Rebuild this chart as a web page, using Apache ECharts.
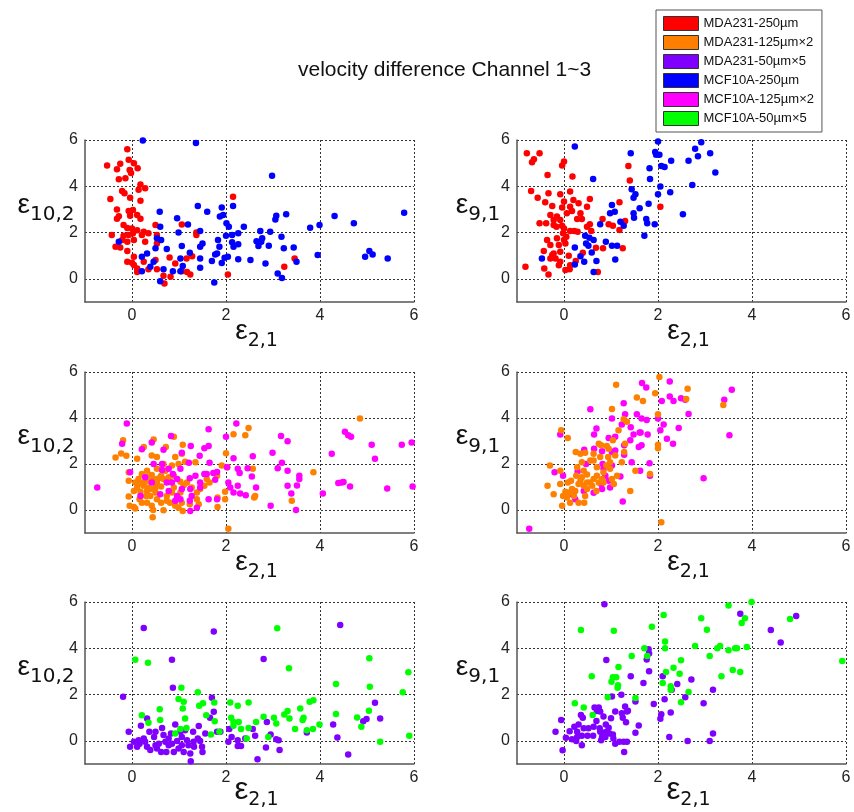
<!DOCTYPE html>
<html>
<head>
<meta charset="utf-8">
<script src="https://cdn.jsdelivr.net/npm/echarts@6/dist/echarts.min.js"></script>
<style>
  body { margin: 0; background: #fff; }
  #main { width: 854px; height: 812px; }
</style>
</head>
<body>
<div id="main"></div>
<script>
// series names (legend order)
var names = ['MDA231-250µm', 'MDA231-125µm×2', 'MDA231-50µm×5', 'MCF10A-250µm', 'MCF10A-125µm×2', 'MCF10A-50µm×5'];
var colors = ['#ff0000', '#ff8000', '#8000ff', '#0000ff', '#ff00ff', '#00ff00'];
var xTicks = [0, 2, 4, 6];
var yTicks = [0, 2, 4, 6];

// panel 1: e2,1 vs e10,2, 250um
var p1Red = [[-0.53,4.9],[-0.1,5.6],[-0.07,5.15],[0.04,5.0],[0.12,4.78],[-0.32,4.74],[-0.25,4.97],[-0.05,4.7],[-0.02,4.57],[-0.14,4.35],[-0.28,4.3],[0.18,4.08],[0.28,3.92],[0.14,3.85],[-0.46,3.45],[-0.21,3.8],[-0.16,3.7],[-0.04,3.5],[0.18,3.37],[-0.32,3.0],[-0.07,2.93],[0.02,2.98],[-0.28,2.7],[-0.32,2.6],[-0.04,2.73],[0.11,2.76],[0.18,2.6],[-0.18,2.33],[0,2.18],[-0.1,2.2],[0.11,2.1],[0.25,2.04],[0.35,1.97],[0.21,1.9],[0.5,2.33],[0.53,1.9],[-0.43,1.9],[-0.18,1.86],[-0.07,1.9],[0.02,1.97],[-0.21,1.68],[-0.1,1.6],[0.04,1.68],[0.28,1.6],[0.53,1.53],[-0.35,1.39],[-0.25,1.35],[-0.1,1.2],[0.04,0.95],[-0.1,0.74],[0,0.7],[0.04,0.6],[0.25,0.74],[0.11,0.45],[0.11,0.3],[0.35,0.42],[0.5,0.81],[0.53,0.42],[0.67,0.13],[0.69,-0.2],[0.82,0.09],[0.92,0.66],[0.8,0.92],[1.06,2.35],[1.06,0.33],[1.16,0.88],[1.17,0.3],[1.24,0.19],[1.28,0.98],[1.37,2.0],[1.37,1.9],[2.15,3.55],[2.04,0.19],[3.24,0.52],[3.46,0.88]];
var p1Blue = [[0.23,5.98],[1.36,5.87],[2.98,4.45],[5.79,2.86],[1.4,3.15],[1.6,2.9],[1.91,3.08],[2.15,3.15],[0.59,2.9],[0.96,2.62],[1.87,2.69],[1.94,2.76],[2.01,2.4],[2.06,2.25],[2.38,2.25],[0.6,2.25],[1.19,2.35],[1.45,2.07],[0.99,2.0],[2.26,1.97],[2.13,1.9],[2.0,1.86],[2.73,2.07],[2.94,2.04],[3.05,2.57],[3.07,2.73],[3.28,2.79],[3.79,2.21],[3.99,2.33],[4.31,2.72],[4.72,2.4],[0.53,1.75],[0.62,1.68],[-0.28,1.6],[1.5,1.53],[1.45,1.39],[1.83,1.68],[1.86,1.39],[2.13,1.58],[2.16,1.39],[2.26,1.49],[2.65,1.63],[2.77,1.75],[2.75,1.6],[2.69,1.42],[2.91,1.43],[3.18,1.82],[3.23,1.32],[3.44,1.36],[1.06,1.42],[0.74,1.29],[0.5,1.32],[0.32,1.1],[1.23,1.13],[0.21,0.95],[1.77,1.05],[1.81,1.1],[1.7,0.77],[1.45,0.88],[1.03,0.88],[1.97,0.91],[2.04,0.95],[2.26,0.85],[2.52,0.81],[2.84,0.66],[1.91,0.69],[3.5,0.74],[3.95,1.03],[4.96,0.95],[5.05,1.2],[5.12,1.05],[5.44,0.88],[0.46,0.74],[0.39,0.52],[1.08,0.56],[0.67,0.42],[0.87,0.33],[1.03,0.33],[1.45,0.48],[0.21,0.33],[0.6,-0.1],[1.75,-0.16],[3.1,0.23],[3.19,0.04]];

// panel 2: e2,1 vs e9,1, 250um
var p2Red = [[-0.79,5.43],[-0.52,5.43],[-0.64,5.17],[-0.68,5.04],[0,5.07],[-0.04,4.9],[0.18,4.42],[-0.35,4.49],[1.37,4.88],[1.4,4.25],[-0.7,3.8],[-0.56,3.51],[-0.33,3.7],[-0.4,3.31],[-0.08,3.66],[0.13,3.77],[0,3.34],[0.2,3.41],[0.31,3.27],[0.55,3.45],[0.49,3.12],[-0.25,3.15],[-0.04,3.08],[0.13,3.12],[0.17,2.93],[0.06,2.83],[0.35,2.83],[-0.29,2.76],[-0.15,2.69],[-0.22,2.54],[-0.08,2.54],[0.28,2.59],[0.38,2.59],[-0.52,2.4],[-0.38,2.4],[-0.22,2.33],[-0.16,2.25],[-0.04,2.3],[0,2.18],[0.13,2.07],[0.22,2.07],[0.29,2.04],[0.55,2.36],[0.58,2.07],[0.49,2.25],[-0.02,1.97],[0.05,1.82],[-0.15,1.75],[0,1.68],[-0.36,1.68],[0.03,1.53],[-0.11,1.46],[-0.29,1.46],[-0.43,1.2],[-0.22,1.1],[-0.08,1.17],[-0.25,1.03],[0.1,1.0],[-0.18,0.88],[-0.29,0.88],[-0.08,0.74],[-0.11,0.59],[0.13,0.59],[0.03,0.38],[0.12,0.42],[-0.42,0.45],[-0.33,0.19],[-0.82,0.52],[0.25,0.77],[0.4,1.13],[0.68,1.34],[0.83,1.32],[0.82,2.59],[0.95,2.36],[1.04,2.3],[1.18,3.31],[1.18,2.11],[1.3,2.5],[1.25,1.32],[0.72,0.3],[2.05,3.12]];
var p2Blue = [[0.23,5.72],[1.42,5.43],[2.0,5.94],[1.94,5.48],[2.03,5.36],[1.96,5.36],[2.92,5.9],[2.79,5.62],[3.11,5.43],[2.85,5.3],[2.65,5.1],[2.28,5.1],[2.07,4.88],[2.14,4.83],[1.82,4.78],[3.22,4.6],[0.62,4.31],[1.83,4.31],[2.05,3.99],[2.73,4.06],[1.44,3.87],[1.52,3.66],[1.48,3.51],[2.26,3.74],[2.0,3.66],[1.61,3.05],[1.8,3.24],[1.02,3.19],[0.98,2.83],[1.08,2.9],[1.48,2.83],[1.49,2.64],[1.75,2.59],[1.77,2.4],[1.93,2.36],[2.53,2.79],[1.2,2.47],[1.27,2.3],[0.77,2.36],[1.71,1.86],[0.45,1.86],[0.54,1.78],[0.63,1.68],[0.89,1.6],[0.47,1.53],[0.52,1.43],[1.02,1.43],[1.13,1.43],[0.23,1.36],[0.59,1.14],[0.35,0.98],[-0.47,0.88],[1.09,0.84],[0.43,0.74],[0.69,0.77],[0.23,0.62],[0.63,0.3]];

// panel 3: e2,1 vs e10,2, 125um x2
var p3Orange = [[-0.19,3.03],[-0.23,2.46],[-0.35,2.28],[-0.12,2.36],[0.25,2.74],[0.46,3.07],[0.11,2.23],[0.53,2.3],[0.42,2.37],[0.72,2.74],[0.89,3.18],[1.08,2.84],[1.06,2.45],[0.99,2.0],[0.92,2.3],[1.13,2.1],[1.35,2.08],[0.85,1.93],[0.67,2.0],[0.53,1.79],[0.42,1.52],[0.32,1.71],[0.21,1.57],[0.14,1.35],[0.07,1.2],[0.11,0.98],[0.18,0.79],[0.25,1.05],[0.35,1.27],[0.32,0.83],[0.42,0.91],[0.53,1.2],[0.62,1.49],[0.71,1.71],[0.78,1.42],[0.62,1.02],[0.5,0.76],[0.39,0.61],[0.32,0.32],[0.42,0.18],[0.45,0],[0.44,-0.32],[0.67,-0.01],[0.74,0.61],[0.74,0.4],[0.85,0.76],[0.96,0.54],[1.03,0.76],[1.1,1.08],[1.17,1.2],[1.27,0.98],[1.06,0.32],[1.08,-0.04],[1.23,0.25],[1.38,0.47],[1.42,0.25],[1.59,1.35],[1.65,1.2],[1.54,1.05],[1.81,1.49],[1.91,1.93],[1.82,0.54],[1.82,0.13],[1.98,0.79],[1.98,0.47],[2.0,2.47],[2.03,1.86],[2.16,3.29],[2.41,3.25],[2.48,3.57],[2.57,1.79],[2.6,0.54],[2.62,0.61],[2.05,-0.82],[3.4,0.4],[3.86,1.64],[4.85,3.98],[-0.07,1.64],[-0.07,1.27],[-0.07,0.59],[-0.05,0.18],[0.04,0.13],[0.07,0.06],[0.16,0.47],[0.21,0.32],[0.3,0.61],[0.53,0.47],[0.62,0.32],[0.81,0.32],[0.92,0.18],[0.99,0.1],[0.89,0.98],[1.38,0.76],[1.45,0.91],[0.25,1.2],[0.35,0.98],[0.46,1.35],[0.57,1.38],[0.67,1.35],[0.81,1.23],[0.89,1.49],[1.03,1.23],[0.32,1.42],[0.14,1.13],[0.04,0.83],[0.5,0.98]];
var p3Magenta = [[-0.74,0.98],[-0.11,3.76],[-0.21,2.88],[-0.04,1.64],[0.21,2.64],[0.42,2.93],[0.67,2.62],[0.83,3.22],[0.46,2.0],[0.64,2.0],[1.06,2.49],[1.25,2.78],[1.54,2.69],[1.63,3.51],[1.63,2.78],[1.44,2.36],[1.65,2.05],[1.73,1.61],[1.81,1.65],[1.59,1.57],[1.21,2.05],[1.03,1.79],[0.78,1.79],[0.87,1.57],[0.96,1.35],[0.74,1.2],[0.64,1.74],[0.42,1.2],[0.18,0.61],[0.28,1.42],[1.23,1.38],[1.35,1.49],[1.45,1.2],[1.45,0.98],[1.54,1.57],[1.24,0.91],[1.27,0.61],[1.23,0.4],[1.24,-0.04],[1.38,0.1],[0.92,0.4],[1.03,0.47],[0.96,0.61],[1.06,0.91],[0.78,0.83],[0.6,0.69],[0.85,1.2],[1.63,0.47],[1.77,1.32],[1.81,0.47],[2.0,3.18],[2.02,1.86],[2.05,1.2],[2.09,0.98],[2.16,0.76],[2.16,2.25],[2.22,3.76],[2.25,1.79],[2.29,1.61],[2.25,1.05],[2.3,0.72],[2.42,0.64],[2.46,1.82],[2.55,1.46],[2.57,2.34],[2.64,0.98],[2.95,0.18],[2.99,2.49],[3.17,3.22],[3.19,2.05],[3.1,1.82],[3.31,2.99],[3.31,1.71],[3.31,1.05],[3.39,0.72],[3.51,1.07],[3.49,0],[3.56,1.49],[3.56,1.35],[4.06,0.72],[4.25,2.45],[4.53,3.4],[4.6,3.25],[4.66,3.18],[4.39,1.17],[4.46,1.2],[4.5,1.22],[4.64,1.02],[5.1,2.84],[5.17,2.23],[5.43,0.94],[5.74,2.84],[5.95,2.93],[5.97,1.02]];

// panel 4: e2,1 vs e9,1, 125um x2
var p4Orange = [[-0.3,1.93],[-0.35,1.05],[-0.22,0.69],[-0.06,3.47],[0.08,3.13],[-0.08,1.71],[-0.08,1.13],[-0.04,0.18],[-0.02,0.61],[0.06,0.54],[0.15,1.27],[0.25,2.52],[0.35,2.45],[0.45,2.49],[0.28,1.86],[0.38,2.08],[0.42,1.71],[0.56,2.15],[0.63,2.45],[0.74,2.88],[0.79,2.81],[0.91,2.78],[0.95,2.66],[1.04,3.03],[1.02,4.39],[1.11,5.45],[1.16,3.47],[1.27,3.95],[1.34,3.84],[1.3,2.88],[1.28,2.52],[1.23,2.08],[1.13,1.49],[1.06,1.13],[1.02,1.35],[1.55,4.89],[1.68,4.74],[1.52,1.71],[1.83,1.57],[1.94,5.08],[2.03,5.78],[2.0,4.16],[2.0,2.84],[2.0,2.69],[2.07,-0.53],[2.6,4.83],[2.63,5.27],[3.39,4.57],[0.13,0.32],[0.24,0.83],[0.31,1.13],[0.38,1.42],[0.31,0.32],[0.43,0.32],[0.45,0.61],[0.49,0.91],[0.55,1.2],[0.63,1.35],[0.7,1.49],[0.74,1.2],[0.81,1.35],[0.84,1.64],[0.9,1.93],[0.98,1.79],[0.98,2.08],[1.09,2.37],[0.21,0.61],[0.35,1.27],[0.42,1.05],[0.6,1.05],[0.69,0.83],[0.84,1.2],[0.17,0.91],[0.26,1.49],[0.49,1.54],[0.7,1.86],[0.63,2.15],[0.77,2.3],[0.94,2.3],[1.41,0.83],[0.08,1.2],[0.03,0.79],[0.12,0.76],[0.49,1.2]];
var p4Magenta = [[-0.74,-0.82],[-0.08,3.28],[-0.2,1.64],[-0.02,1.49],[0.17,0.69],[0.24,0.47],[0.29,1.67],[0.42,0.83],[0.43,2.62],[0.47,2.0],[0.56,4.38],[0.64,3.28],[0.69,3.54],[0.63,0.75],[0.64,2.66],[0.81,2.55],[0.82,2.0],[0.81,0.91],[0.84,1.79],[0.95,3.13],[1.02,3.98],[1.09,3.18],[1.02,2.52],[1.02,1.93],[0.98,0.98],[1.09,2.59],[1.2,1.46],[1.23,3.72],[1.27,4.64],[1.28,2.81],[1.28,2.4],[1.25,0.37],[1.3,4.16],[1.41,3.03],[1.42,3.6],[1.44,2.08],[1.48,3.28],[1.55,4.16],[1.59,2.74],[1.61,3.37],[1.62,1.71],[1.63,3.37],[1.65,2.81],[1.65,3.98],[1.66,5.52],[1.75,5.33],[1.76,3.91],[1.78,3.28],[1.82,2.03],[1.83,1.49],[2.0,3.98],[2.05,3.47],[2.08,4.74],[2.12,3.72],[2.19,3.1],[2.25,5.59],[2.25,4.93],[2.32,2.88],[2.33,4.74],[2.44,3.57],[2.49,4.86],[2.58,4.79],[2.65,4.17],[2.97,1.38],[3.41,4.79],[3.52,3.25],[3.57,5.23],[0.79,1.13],[0.95,1.27],[0.88,1.49]];

// panel 5: e2,1 vs e10,2, 50um x5
var p5Purple = [[-0.19,1.91],[-0.07,0.39],[0.25,4.88],[1.74,4.73],[0.85,3.5],[2.8,3.54],[4.43,5.01],[0.87,2.3],[1.7,1.86],[0.19,0.65],[0.32,0.97],[-0.04,-0.26],[0.04,-0.04],[0.11,-0.26],[0.16,-0.12],[0.25,0.1],[0.28,-0.04],[0.32,-0.26],[0.37,0.39],[0.39,-0.4],[0.5,0.39],[0.5,-0.19],[0.53,-0.33],[0.62,-0.48],[0.64,0.56],[0.67,0.25],[0.71,-0.04],[0.73,-0.48],[0.78,0.1],[0.78,-0.19],[0.83,0.32],[0.85,-0.12],[0.89,-0.48],[0.92,0.71],[0.96,-0.01],[0.99,-0.33],[1.03,0.39],[1.06,-0.19],[1.1,-0.48],[1.13,0.46],[1.17,0.03],[1.2,-0.19],[1.24,-0.55],[1.25,-0.88],[1.3,0.39],[1.31,-0.04],[1.32,-0.26],[1.42,0.64],[1.45,-0.01],[1.49,-0.26],[1.5,-0.48],[1.56,0.32],[1.66,1.0],[1.74,1.26],[1.81,0.39],[1.88,0.39],[2.05,-0.04],[2.07,0.51],[2.12,0.17],[2.25,0.03],[2.25,-0.22],[2.32,-0.22],[2.41,0.1],[2.57,0.51],[2.62,0.22],[2.67,-0.79],[2.85,-0.29],[2.87,0.82],[2.95,0.27],[3.07,0.07],[3.12,0.03],[3.14,-0.4],[4.28,0.71],[4.37,0.14],[4.6,-0.59],[4.92,0.85],[4.99,0.94],[5.17,1.65],[5.28,0.97],[3.72,0.36],[0.47,0.17],[0.57,-0.12],[0.14,0.03],[1.06,0.17],[1.4,0.1]];
var p5Green = [[0.07,3.5],[0.34,3.37],[0.21,1.11],[0.35,0.78],[0.59,1.37],[0.6,0.9],[0.92,0.32],[0.99,1.81],[1.05,2.3],[1.1,1.69],[1.08,1.4],[1.03,0.51],[1.13,0.97],[1.16,0.56],[1.4,2.1],[1.43,1.52],[1.51,1.62],[1.58,1.11],[1.68,0.27],[1.75,1.66],[1.76,0.85],[1.86,0.39],[2.09,1.66],[2.11,1.0],[2.16,0.82],[2.16,0.65],[2.25,1.52],[2.27,0.82],[2.32,0.51],[2.44,0.1],[2.48,0.56],[2.48,1.66],[2.64,0.82],[2.8,1.04],[2.9,0.17],[3.02,1.0],[3.07,0.75],[3.09,4.87],[3.24,1.14],[3.31,1.29],[3.34,3.14],[3.35,0.97],[3.47,0.51],[3.58,1.4],[3.63,0.9],[3.65,1.0],[3.72,0.46],[3.78,1.69],[3.86,1.76],[3.85,0.51],[3.99,0.71],[4.34,2.46],[4.34,1.16],[4.79,1.01],[4.88,0.61],[5.05,3.57],[5.06,2.34],[5.04,1.3],[5.28,-0.04],[5.76,2.1],[5.88,2.96],[5.9,0.22]];

// panel 6: e2,1 vs e9,1, 50um x5
var p6Purple = [[0.86,5.9],[0.9,3.49],[-0.18,0.39],[-0.06,0.9],[-0.03,-0.41],[0.04,0.13],[0.12,0.42],[0.17,0.07],[0.22,0.61],[0.26,-0.01],[0.28,0.39],[0.31,0.71],[0.36,1.12],[0.38,0.22],[0.4,1.0],[0.42,0.54],[0.38,-0.19],[0.5,0.22],[0.52,0.54],[0.62,0.22],[0.63,0.61],[0.65,1.44],[0.69,0.86],[0.7,1.29],[0.74,1.44],[0.76,0.54],[0.77,0.39],[0.77,1.27],[0.79,0.03],[0.81,0.17],[0.84,1.05],[0.86,0.36],[0.88,0.17],[0.89,0.71],[0.91,0.39],[0.95,0.57],[0.97,0.32],[1.0,0.98],[1.02,1.92],[1.04,0.28],[1.05,0.1],[1.09,1.27],[1.09,-0.12],[1.18,-0.04],[1.22,1.99],[1.23,1.19],[1.25,1.0],[1.27,-0.04],[1.28,-0.48],[1.3,1.48],[1.32,0.8],[1.34,1.27],[1.36,1.3],[1.34,-0.04],[1.42,2.79],[1.52,0.35],[1.52,1.7],[1.59,0.66],[1.69,2.5],[1.76,3.52],[1.8,3.96],[1.81,3.77],[1.81,3.01],[1.91,1.59],[2.05,0.95],[2.07,1.15],[2.1,2.79],[2.14,1.8],[2.24,0.17],[2.27,1.22],[2.29,2.21],[2.41,2.46],[2.58,1.88],[2.63,-0.01],[2.71,2.65],[2.97,1.63],[3.1,-0.01],[3.17,0.32],[3.17,2.21],[3.75,5.49],[4.4,4.79],[4.61,4.25],[4.94,5.39],[0.28,0.17]];
var p6Green = [[0.36,4.79],[0.42,1.44],[0.23,1.63],[0.61,1.12],[0.59,2.79],[0.93,1.88],[1.01,2.55],[1.04,2.75],[1.06,4.76],[1.11,2.75],[1.14,2.29],[1.15,2.4],[1.16,3.19],[1.44,3.67],[1.52,1.85],[1.71,4.0],[1.77,3.67],[1.87,4.93],[2.1,2.5],[2.12,5.44],[2.15,4.29],[2.15,4.0],[2.17,2.98],[2.27,2.36],[2.27,2.21],[2.33,3.16],[2.46,2.9],[2.49,3.48],[2.49,1.67],[2.65,2.11],[2.79,4.1],[2.92,5.3],[3.04,4.8],[3.1,3.67],[3.26,4.0],[3.32,4.1],[3.35,2.79],[3.5,5.85],[3.5,3.92],[3.59,3.06],[3.64,4.0],[3.68,4.0],[3.75,2.98],[3.78,5.09],[3.85,5.3],[3.89,4.06],[3.99,6.0],[4.81,5.27],[5.92,3.45]];

var panels = [
  { left: 85,  top: 140, h: 162, yName: '10,2', xGap: 9, eSize: 28, data: [[0, p1Red], [3, p1Blue]] },
  { left: 517, top: 140, h: 162, yName: '9,1',  xGap: 9, eSize: 28, data: [[0, p2Red], [3, p2Blue]] },
  { left: 85,  top: 372, h: 161, yName: '10,2', xGap: 9, eSize: 28, data: [[1, p3Orange], [4, p3Magenta]] },
  { left: 517, top: 372, h: 161, yName: '9,1',  xGap: 9, eSize: 28, data: [[4, p4Magenta], [1, p4Orange]] },
  { left: 85,  top: 602, h: 162, yName: '10,2', xGap: 6, eSize: 31, data: [[2, p5Purple], [5, p5Green]] },
  { left: 517, top: 602, h: 162, yName: '9,1',  xGap: 6, eSize: 31, data: [[2, p6Purple], [5, p6Green]] }
];

var FONT = 'Liberation Sans';
var gridLine = { show: true, lineStyle: { color: '#333', width: 1, type: [2, 2] } };
var axisLn = { show: true, onZero: false, lineStyle: { color: '#555', width: 1.5 } };
function nameRich(eSize, sSize) {
  return {
    e: { fontSize: eSize, lineHeight: 40, verticalAlign: 'middle', color: '#111', fontFamily: FONT },
    s: { fontSize: sSize, lineHeight: 20, verticalAlign: 'bottom', color: '#111', fontFamily: 'DejaVu Sans' }
  };
}

var grids = [], xAxes = [], yAxes = [], series = [];
panels.forEach(function (p, i) {
  grids.push({ left: p.left, top: p.top, width: 329, height: p.h });
  xAxes.push({
    type: 'value', gridIndex: i, min: -1, max: 6,
    axisLine: axisLn,
    axisTick: { show: false, customValues: xTicks },
    axisLabel: { customValues: xTicks, margin: 6, fontSize: 16, color: '#222', fontFamily: FONT },
    splitLine: gridLine,
    name: '{e|ε}{s|2,1}', nameLocation: 'middle', nameGap: p.xGap, nameMoveOverlap: false,
    nameTextStyle: { rich: nameRich(p.eSize, 19), padding: [0, 0, 0, 14] }
  });
  yAxes.push({
    type: 'value', gridIndex: i, min: -1, max: 6,
    axisLine: axisLn,
    axisTick: { show: false, customValues: yTicks },
    axisLabel: { customValues: yTicks, margin: 7, fontSize: 16, color: '#222', fontFamily: FONT },
    splitLine: gridLine,
    name: '{e|ε}{s|' + p.yName + '}', nameLocation: 'middle', nameRotate: 0, nameGap: 39, nameMoveOverlap: false,
    nameTextStyle: { rich: nameRich(28, 20), align: 'center', padding: [0, 0, 32, 0] }
  });
  p.data.forEach(function (d) {
    series.push({
      name: names[d[0]], type: 'scatter', xAxisIndex: i, yAxisIndex: i,
      symbol: 'circle', symbolSize: 6.5,
      itemStyle: { color: colors[d[0]], opacity: 1 },
      data: d[1], animation: false
    });
  });
});

var chart = echarts.init(document.getElementById('main'), null, { renderer: 'canvas' });
chart.setOption({
  backgroundColor: '#fff',
  animation: false,
  color: colors,
  title: {
    text: 'velocity difference Channel 1~3', left: 293, top: 55,
    textStyle: { fontSize: 21, fontWeight: 'normal', color: '#111', fontFamily: FONT }
  },
  legend: {
    data: names, orient: 'vertical', left: 656, top: 10,
    padding: [6, 8, 6, 7], itemWidth: 35, itemHeight: 14, itemGap: 4,
    borderColor: '#555', borderWidth: 1, backgroundColor: '#fff',
    icon: 'rect', selectedMode: false,
    itemStyle: { borderColor: '#333', borderWidth: 1 },
    textStyle: { fontSize: 13, color: '#111', fontFamily: FONT }
  },
  grid: grids,
  xAxis: xAxes,
  yAxis: yAxes,
  series: series
});
</script>
</body>
</html>
